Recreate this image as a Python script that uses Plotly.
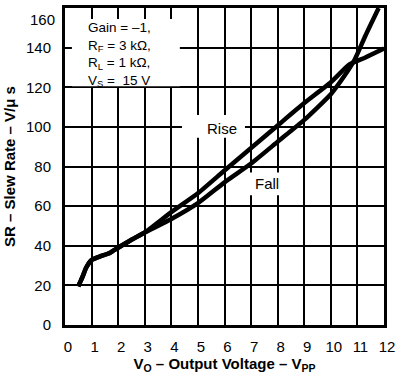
import plotly.graph_objects as go

# ---- data ----
rise_x = [0.5, 0.65, 0.8, 1.0, 1.3, 1.7, 2.0, 2.5, 3.0, 4.0, 5.0, 6.0, 7.0, 8.0, 9.0, 10.0, 10.7, 11.3, 12.0]
rise_y = [19.5, 24, 29, 32.8, 34.5, 36.5, 39, 43, 46.7, 57, 66.5, 78, 89.3, 100.7, 112, 122.5, 131.5, 135, 139.5]
fall_x = [0.5, 0.65, 0.8, 1.0, 1.3, 1.7, 2.0, 2.5, 3.0, 4.0, 5.0, 6.0, 7.0, 8.0, 9.0, 10.0, 10.5, 10.9, 11.3, 11.8]
fall_y = [19.5, 24, 29, 32.8, 34.5, 36.5, 39, 43, 46.7, 53.5, 61.5, 72, 81.5, 92.5, 103.5, 116.5, 125.5, 134, 146, 160]

x_ticks = list(range(0, 13))
y_ticks = list(range(0, 161, 20))
y_ticktext = [str(v) for v in y_ticks[:-1]] + [""]

cond_lines = ["Gain = \u20131,", "R<sub>F</sub> = 3 k\u03a9,", "R<sub>L</sub> = 1 k\u03a9,", "V<sub>S</sub> =  15 V"]

FONT = "Liberation Sans, Arial, Helvetica, sans-serif"

fig = go.Figure()
for xs, ys in [(rise_x, rise_y), (fall_x, fall_y)]:
    fig.add_trace(go.Scatter(x=xs, y=ys, mode="lines",
                             line=dict(color="black", width=4.5, shape="spline", smoothing=0.5),
                             showlegend=False, hoverinfo="skip"))

# white boxes hiding the grid behind the labels
boxes = [(0.26, 4.32, 120.5, 154.5), (4.4, 6.77, 94.5, 106), (6.77, 8.2, 65.5, 77)]
shapes = [dict(type="rect", xref="x", yref="y", x0=a, x1=b, y0=c, y1=d,
               fillcolor="white", line=dict(width=0), layer="between") for a, b, c, d in boxes]

ann = []
ann.append(dict(x=5.89, y=99.2, xref="x", yref="y", text="Rise", showarrow=False,
                font=dict(size=15, color="black", family=FONT)))
ann.append(dict(x=7.61, y=71.6, xref="x", yref="y", text="Fall", showarrow=False,
                font=dict(size=15, color="black", family=FONT)))
ann.append(dict(x=0.78, y=155, xref="x", yref="y", text="<br>".join(cond_lines), showarrow=False,
                xanchor="left", yanchor="top", align="left",
                font=dict(size=13.5, color="black", family=FONT)))
# top y tick label
ann.append(dict(x=0, y=160, xref="paper", yref="y", text="160", showarrow=False,
                xanchor="right", yanchor="top", xshift=-8, yshift=-1,
                font=dict(size=15, color="black", family=FONT)))

fig.update_layout(
    width=400, height=377,
    margin=dict(l=65, r=16, t=5, b=52),
    paper_bgcolor="white", plot_bgcolor="white",
    font=dict(family=FONT, size=15, color="black"),
    annotations=ann, shapes=shapes,
    xaxis=dict(range=[0, 12], tickvals=x_ticks, ticktext=[str(v) for v in x_ticks],
               showgrid=True, gridcolor="black", gridwidth=2,
               showline=True, linecolor="black", linewidth=3, mirror=True,
               ticks="", ticklabelstandoff=6, ticklabelshift=3, zeroline=False,
               tickfont=dict(size=15),
               title=dict(text="<b>V<sub>O</sub> \u2013 Output Voltage \u2013 V<sub>PP</sub></b>",
                          font=dict(size=15), standoff=4)),
    yaxis=dict(range=[0, 160], tickvals=y_ticks, ticktext=y_ticktext,
               showgrid=True, gridcolor="black", gridwidth=2,
               showline=True, linecolor="black", linewidth=3, mirror=True,
               ticks="", ticklabelstandoff=8, zeroline=False,
               tickfont=dict(size=15),
               title=dict(text="<b>SR \u2013 Slew Rate \u2013 V/\u03bc s</b>",
                          font=dict(size=15), standoff=7)),
)

fig.write_html("out.html", config={"displayModeBar": False},
               post_script="document.body.style.margin='0';")
